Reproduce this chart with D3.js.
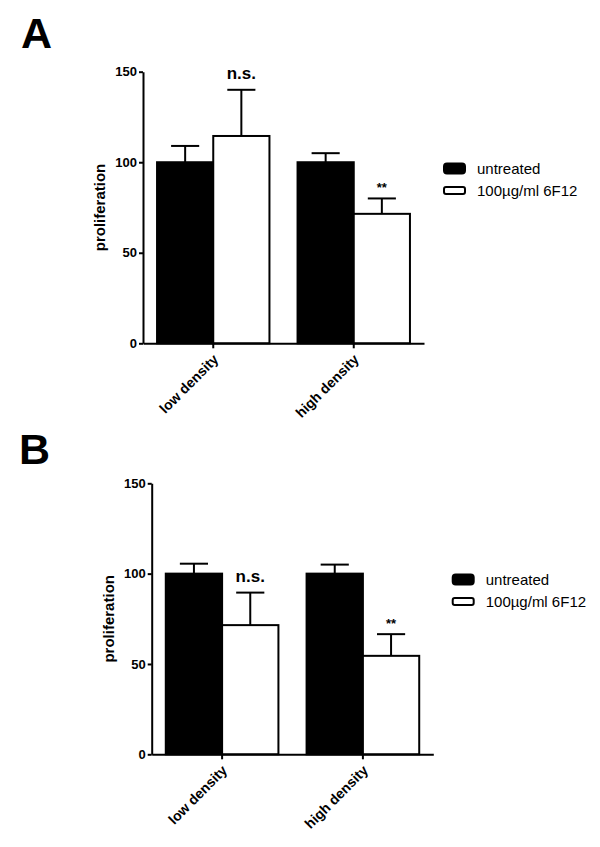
<!DOCTYPE html>
<html>
<head>
<meta charset="utf-8">
<script src="https://cdn.jsdelivr.net/npm/d3@7"></script>
<style>
  html, body { margin: 0; padding: 0; background: #fff; }
  svg { display: block; font-family: "Liberation Sans", Arial, sans-serif; }
</style>
</head>
<body>
<svg id="chart" width="600" height="847"></svg>
<script>
// ---- data ----
const categories = ["low density", "high density"];
const seriesNames = ["untreated", "100µg/ml 6F12"];
const yTicks = [0, 50, 100, 150];

// Panel A
const aUntreated = [100, 100];
const aUntreatedErr = [9, 5];
const aTreated = [114.5, 71.5];
const aTreatedErr = [25.5, 8.5];
const aSignif = ["n.s.", "**"];

// Panel B
const bUntreated = [100, 100];
const bUntreatedErr = [5.5, 5];
const bTreated = [71.5, 54.5];
const bTreatedErr = [18, 12];
const bSignif = ["n.s.", "**"];

const yLabel = "proliferation";

// ---- drawing ----
const svg = d3.select("#chart");

function drawPanel(opt) {
  const { letter, lx, ly, x0, x1, yBottom, yTop, untreated, untreatedErr, treated, treatedErr, signif, legX, legY } = opt;
  const g = svg.append("g");

  g.append("text").attr("x", lx).attr("y", ly)
    .attr("font-size", 43).attr("font-weight", "bold").text(letter);

  const y = d3.scaleLinear().domain([0, 150]).range([yBottom, yTop]);
  const x = d3.scaleBand().domain(categories).range([x0, x1]).paddingInner(0.2).paddingOuter(0.1);
  const xs = d3.scaleBand().domain(seriesNames).range([0, x.bandwidth()]);

  const rows = [];
  categories.forEach((c, i) => {
    rows.push({ c, s: seriesNames[0], v: untreated[i], e: untreatedErr[i], sig: null });
    rows.push({ c, s: seriesNames[1], v: treated[i], e: treatedErr[i], sig: signif[i] });
  });

  // error bars (behind bars)
  const eg = g.append("g").attr("stroke", "#000").attr("stroke-width", 2);
  rows.forEach(r => {
    const cx = x(r.c) + xs(r.s) + xs.bandwidth() / 2;
    const capW = xs.bandwidth() * 0.25;
    eg.append("line").attr("x1", cx).attr("x2", cx).attr("y1", y(r.v)).attr("y2", y(r.v + r.e));
    eg.append("line").attr("x1", cx - capW).attr("x2", cx + capW).attr("y1", y(r.v + r.e)).attr("y2", y(r.v + r.e));
  });

  // bars
  g.append("g").selectAll("rect").data(rows).join("rect")
    .attr("x", d => x(d.c) + xs(d.s))
    .attr("y", d => y(d.v))
    .attr("width", xs.bandwidth())
    .attr("height", d => y(0) - y(d.v))
    .attr("fill", d => d.s === seriesNames[0] ? "#000" : "#fff")
    .attr("stroke", "#000").attr("stroke-width", 2);

  // significance labels
  rows.filter(r => r.sig).forEach(r => {
    const cx = x(r.c) + xs(r.s) + xs.bandwidth() / 2;
    const isStar = r.sig.indexOf("*") >= 0;
    g.append("text").attr("x", cx).attr("y", y(r.v + r.e) - (isStar ? 6 : 11))
      .attr("text-anchor", "middle").attr("font-weight", "bold")
      .attr("font-size", isStar ? 13 : 17).text(r.sig);
  });

  // y axis
  const ya = g.append("g").attr("transform", `translate(${x0},0)`)
    .call(d3.axisLeft(y).tickValues(yTicks).tickSize(4).tickPadding(2).tickSizeOuter(0));
  ya.select(".domain").attr("stroke-width", 2);
  ya.selectAll(".tick line").attr("stroke-width", 2);
  ya.selectAll(".tick text").attr("font-size", 13).attr("font-weight", "bold")
    .attr("font-family", "Liberation Sans, Arial, sans-serif").attr("fill", "#000");

  // x axis
  const xa = g.append("g").attr("transform", `translate(0,${yBottom})`)
    .call(d3.axisBottom(x).tickSize(5).tickSizeOuter(0));
  xa.select(".domain").attr("stroke-width", 2);
  xa.selectAll(".tick line").attr("stroke-width", 2);
  xa.selectAll(".tick text")
    .attr("font-size", 14).attr("font-weight", "bold")
    .attr("font-family", "Liberation Sans, Arial, sans-serif").attr("fill", "#000")
    .attr("text-anchor", "end")
    .attr("y", 0).attr("dy", 0)
    .attr("transform", "translate(6,17) rotate(-45)");

  // y label
  g.append("text")
    .attr("transform", `translate(${x0 - 38},${(yBottom + yTop) / 2}) rotate(-90)`)
    .attr("text-anchor", "middle").attr("font-size", 15).attr("font-weight", "bold")
    .text(yLabel);

  // legend
  const lg = g.append("g").attr("transform", `translate(${legX},${legY})`);
  lg.append("rect").attr("x", 1).attr("y", -5).attr("width", 21).attr("height", 10).attr("rx", 3)
    .attr("fill", "#000").attr("stroke", "#000").attr("stroke-width", 2);
  lg.append("rect").attr("x", 1).attr("y", 22 - 3.5).attr("width", 21).attr("height", 7).attr("rx", 2)
    .attr("fill", "#fff").attr("stroke", "#000").attr("stroke-width", 2);
  seriesNames.forEach((s, i) => {
    lg.append("text").attr("x", 34).attr("y", i * 22).attr("dy", "0.35em")
      .attr("font-size", 15).text(s);
  });
}

drawPanel({
  letter: "A", lx: 21, ly: 48,
  x0: 143, x1: 424, yBottom: 343.3, yTop: 71.7,
  untreated: aUntreated, untreatedErr: aUntreatedErr, treated: aTreated, treatedErr: aTreatedErr, signif: aSignif,
  legX: 443, legY: 168.5
});
drawPanel({
  letter: "B", lx: 19, ly: 464,
  x0: 151.7, x1: 433.3, yBottom: 754.3, yTop: 483.3,
  untreated: bUntreated, untreatedErr: bUntreatedErr, treated: bTreated, treatedErr: bTreatedErr, signif: bSignif,
  legX: 451.7, legY: 579.5
});
</script>
</body>
</html>
